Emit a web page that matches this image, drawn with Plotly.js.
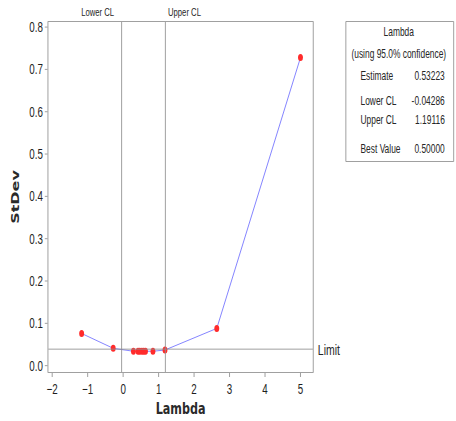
<!DOCTYPE html>
<html><head><meta charset="utf-8">
<script src="https://cdn.plot.ly/plotly-3.0.1.min.js"></script>
<style>
html,body{margin:0;padding:0;background:#fff;overflow:hidden;width:456px;height:421px}
#c{width:651px;height:421px;transform:scaleX(0.7);transform-origin:0 0}
</style>
</head><body><div id="c"></div>
<script>
const lambda = [-1.17, -0.28, 0.29, 0.42, 0.47, 0.53, 0.58, 0.63, 0.84, 1.18, 2.64, 5.0];
const stdev  = [0.076, 0.041, 0.034, 0.034, 0.034, 0.034, 0.034, 0.034, 0.034, 0.037, 0.088, 0.728];
const lowerCL = -0.04286, upperCL = 1.19116, limit = 0.039;
const tableTitle = "Lambda";
const tableSub = "(using 95.0% confidence)";
const tableLabels = ["Estimate", "Lower CL", "Upper CL", "Best Value"];
const tableValues = ["0.53223", "-0.04286", "1.19116", "0.50000"];

const S = 0.7;                       // horizontal squeeze of the reference
const F = "Liberation Sans, Arial, sans-serif";
const FB = "DejaVu Sans, sans-serif";
const L = 48, T = 22, W = 265, H = 350;
const px = x => (x - L) / W, py = y => (T + H - y) / H;
const grey = "#8f8f8f";
const txt = "#262626";

const shapes = [
  {type:"line", xref:"x", yref:"paper", x0:lowerCL, x1:lowerCL, y0:0, y1:1, line:{color:grey, width:1}},
  {type:"line", xref:"x", yref:"paper", x0:upperCL, x1:upperCL, y0:0, y1:1, line:{color:grey, width:1}},
  {type:"line", xref:"paper", yref:"y", x0:0, x1:1, y0:limit, y1:limit, line:{color:grey, width:1}},
  {type:"rect", xref:"paper", yref:"paper", x0:px(346), x1:px(454), y0:py(161.5), y1:py(21.5), line:{color:grey, width:1}}
];
const ann = [
  {text:"Lower CL", x:lowerCL, xref:"x", y:1, yref:"paper", xanchor:"right", yanchor:"middle", xshift:-9, yshift:10, showarrow:false, font:{size:11, family:F, color:txt}},
  {text:"Upper CL", x:upperCL, xref:"x", y:1, yref:"paper", xanchor:"left", yanchor:"middle", xshift:2, yshift:10, showarrow:false, font:{size:11, family:F, color:txt}},
  {text:"Limit", x:1, xref:"paper", xanchor:"left", xshift:5, y:limit, yref:"y", yanchor:"middle", showarrow:false, font:{size:15, family:F, color:txt}},
  {text:tableTitle, x:px(399), y:py(32), xref:"paper", yref:"paper", xanchor:"center", yanchor:"middle", showarrow:false, font:{size:12, family:F, color:txt}},
  {text:tableSub, x:px(399), y:py(54), xref:"paper", yref:"paper", xanchor:"center", yanchor:"middle", showarrow:false, font:{size:12, family:F, color:txt}}
];
const rowsY = [76, 101, 120, 149];
tableLabels.forEach((t, i) => {
  ann.push({text:t, x:px(359), y:py(rowsY[i]), xref:"paper", yref:"paper", xanchor:"left", yanchor:"middle", showarrow:false, font:{size:12, family:F, color:txt}});
  ann.push({text:tableValues[i], x:px(447), y:py(rowsY[i]), xref:"paper", yref:"paper", xanchor:"right", yanchor:"middle", showarrow:false, font:{size:12, family:F, color:txt}});
});

Plotly.newPlot("c", [{
  x: lambda, y: stdev, type:"scatter", mode:"lines+markers",
  line:{color:"#6f6fff", width:1},
  marker:{color:"#ff2b2b", size:7}
}], {
  width:651, height:421,
  margin:{l:L/S, r:651-(L+W)/S, t:T, b:421-T-H},
  paper_bgcolor:"#fff", plot_bgcolor:"#fff",
  showlegend:false,
  font:{family:F, color:txt},
  xaxis:{range:[-2.11, 5.35], dtick:1, tick0:0, ticks:"outside", ticklen:4, tickcolor:grey,
         showgrid:false, zeroline:false, showline:true, linecolor:grey, mirror:true,
         tickfont:{size:14, family:F, color:"#1e1e1e"},
         title:{text:"<b>Lambda</b>", font:{size:16, family:FB, color:"#2a2a2a"}, standoff:7}},
  yaxis:{range:[-0.015, 0.812], dtick:0.1, tick0:0, tickformat:".1f", ticks:"outside", ticklen:4, tickcolor:grey,
         showgrid:false, zeroline:false, showline:true, linecolor:grey, mirror:true,
         tickfont:{size:14, family:F, color:"#1e1e1e"},
         title:{text:"<b>StDev</b>", font:{size:16, family:FB, color:"#2a2a2a"}, standoff:9}},
  shapes: shapes,
  annotations: ann
}, {displayModeBar:false, staticPlot:true});
</script></body></html>
